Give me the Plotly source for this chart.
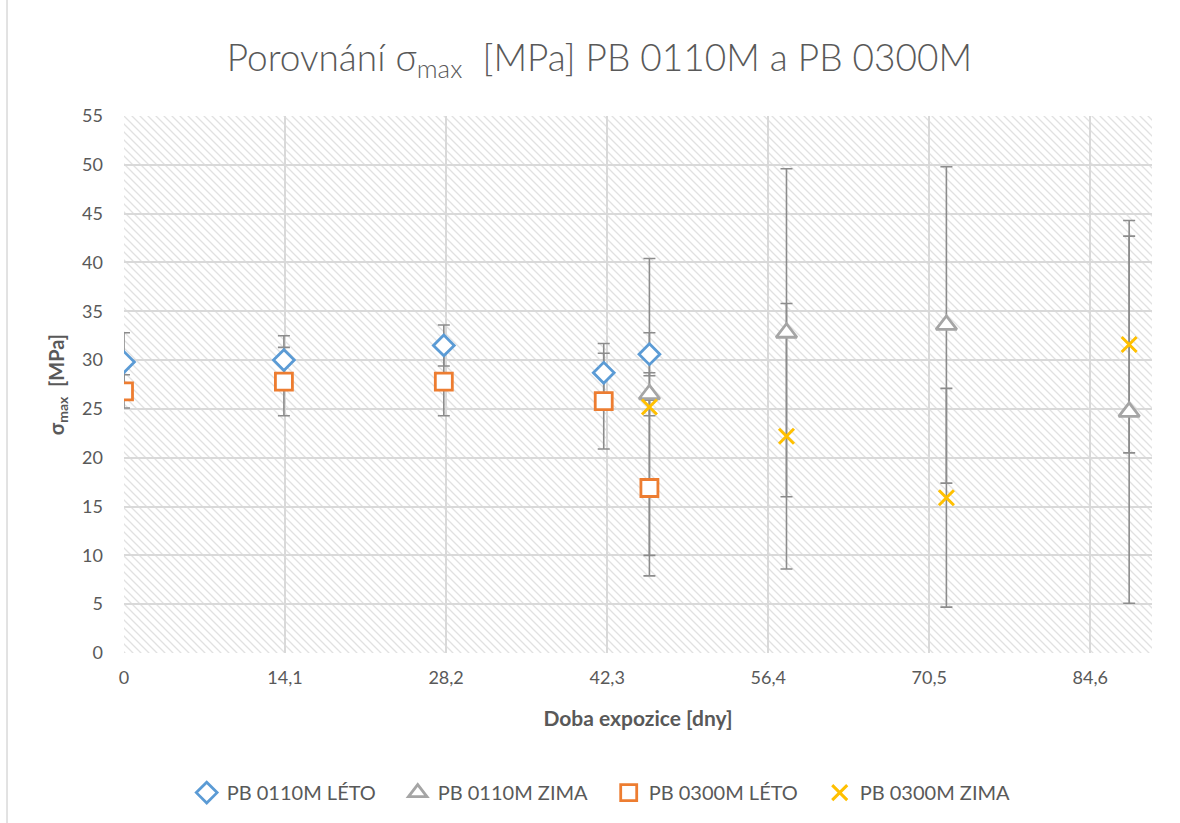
import base64
import plotly.graph_objects as go

# ---- data ----
x_ticks = [0, 14.1, 28.2, 42.3, 56.4, 70.5, 84.6]

leto_days = [0, 14, 28, 42, 46]
zima_days = [46, 58, 72, 88]

pb0110_leto = [29.8, 30.0, 31.5, 28.7, 30.6]
pb0110_leto_err = [3.0, 2.5, 2.1, 3.0, 2.2]

pb0110_zima = [26.5, 32.8, 33.6, 24.7]
pb0110_zima_err = [2.2, 16.8, 16.2, 19.6]

pb0300_leto = [26.8, 27.8, 27.8, 25.8, 16.9]
pb0300_leto_err = [1.7, 3.5, 3.5, 4.9, 9.0]

pb0300_zima = [25.2, 22.2, 15.9, 31.6]
pb0300_zima_err = [15.2, 13.6, 11.2, 11.1]

FONT = "Lato"
TXT = "#595959"
ERR = "#8c8c8c"

series = [
    ("PB 0110M LÉTO", leto_days, pb0110_leto, pb0110_leto_err, "diamond", "#5B9BD5", 16),
    ("PB 0110M ZIMA", zima_days, pb0110_zima, pb0110_zima_err, "triangle-up", "#A5A5A5", 18),
    ("PB 0300M LÉTO", leto_days, pb0300_leto, pb0300_leto_err, "square", "#ED7D31", 17),
    ("PB 0300M ZIMA", zima_days, pb0300_zima, pb0300_zima_err, "x-thin", "#FFC000", 15),
]

fig = go.Figure()

# error bars first (drawn underneath all markers)
for name, xs, ys, es, sym, col, sz in series:
    fig.add_trace(go.Scatter(
        x=xs, y=ys, mode="markers", showlegend=False, hoverinfo="skip",
        marker=dict(size=1, opacity=0),
        error_y=dict(type="data", array=es, visible=True, color=ERR, thickness=1.6, width=6),
    ))

for name, xs, ys, es, sym, col, sz in series:
    if sym == "x-thin":
        marker = dict(symbol="x-thin", size=sz, line=dict(color=col, width=3), color=col)
    else:
        marker = dict(symbol=sym, size=sz, color="white", line=dict(color=col, width=2.8))
    fig.add_trace(go.Scatter(x=xs, y=ys, mode="markers", name=name, marker=marker))

# hatched plot-area background as an svg image
W, H = 1028, 537
svg = (
    f'<svg xmlns="http://www.w3.org/2000/svg" width="{W}" height="{H}" viewBox="0 0 {W} {H}" preserveAspectRatio="none">'
    '<defs><pattern id="p" width="8" height="8" patternUnits="userSpaceOnUse">'
    '<path d="M-2,-2 L10,10 M-2,6 L2,10 M6,-2 L10,2" stroke="#e1e1e1" stroke-width="1.3"/>'
    '</pattern></defs>'
    f'<rect width="{W}" height="{H}" fill="white"/><rect width="{W}" height="{H}" fill="url(#p)"/></svg>'
)
src = "data:image/svg+xml;base64," + base64.b64encode(svg.encode()).decode()

fig.update_layout(
    width=1180, height=823,
    margin=dict(l=124, r=28, t=116, b=170, autoexpand=False),
    paper_bgcolor="white", plot_bgcolor="rgba(0,0,0,0)",
    font=dict(family=FONT, color=TXT, size=18),
    title=dict(
        text="Porovnání σ<sub>max</sub>  [MPa] PB 0110M a PB 0300M",
        x=0.508, xanchor="center", y=0.93, yanchor="middle",
        font=dict(family=FONT, size=37, color=TXT, weight=300),
    ),
    images=[dict(source=src, xref="paper", yref="paper", x=0, y=1, sizex=1, sizey=1,
                 xanchor="left", yanchor="top", sizing="stretch", layer="below")],
    legend=dict(orientation="h", x=0.061, xanchor="left", y=-0.26, yanchor="middle",
                font=dict(size=20, color=TXT), itemwidth=30, tracegroupgap=0,
                entrywidth=166, entrywidthmode="pixels"),
    shapes=[dict(type="line", xref="paper", yref="paper", x0=-0.1138, x1=-0.1138, y0=-0.32, y1=1.3,
                 line=dict(color="#d9d9d9", width=1.5))],
)

fig.update_xaxes(
    range=[0, 90], tickvals=x_ticks, ticktext=[str(v).replace(".", ",") if v else "0" for v in x_ticks],
    showgrid=True, gridcolor="#d9d9d9", gridwidth=2, zeroline=False, showline=False,
    ticks="", ticklabelstandoff=12, tickfont=dict(size=18),
    title=dict(text="<b>Doba expozice [dny]</b>", font=dict(size=21, color=TXT), standoff=24),
)
fig.update_yaxes(
    range=[0, 55], dtick=5, showgrid=True, gridcolor="#d9d9d9", gridwidth=2,
    zeroline=False, showline=False, ticks="", ticklabelstandoff=20, tickfont=dict(size=18),
    title=dict(text="<b>σ<sub>max</sub>  [MPa]</b>", font=dict(size=20, color=TXT), standoff=12),
)

fig.write_html("out.html", config={"displayModeBar": False},
               post_script="document.body.style.margin='0';")
